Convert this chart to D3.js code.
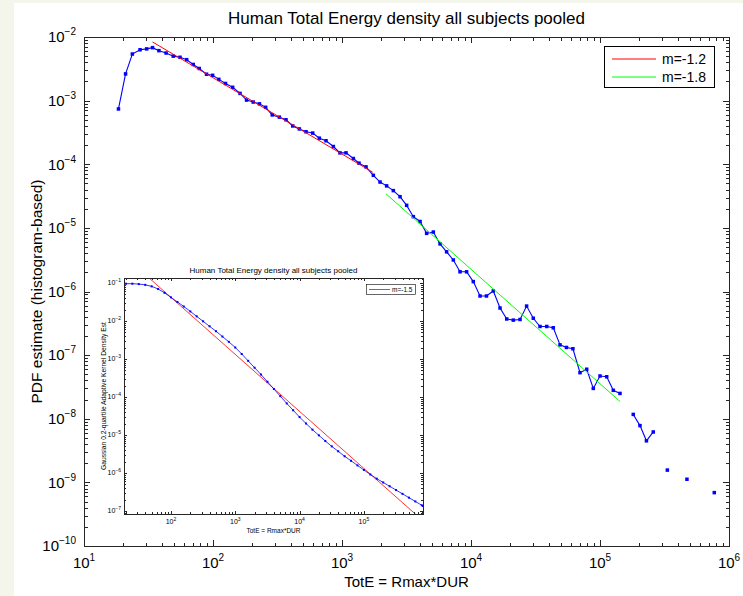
<!DOCTYPE html>
<html><head><meta charset="utf-8">
<script src="https://cdn.jsdelivr.net/npm/d3@7"></script>
<style>
html,body{margin:0;padding:0;background:#f4f6ec;}
svg{display:block;font-family:"Liberation Sans",Arial,Helvetica,sans-serif;}
</style></head><body><svg id="c" width="743" height="596"></svg>
<script>
// ---------- data ----------
const titleText = "Human Total Energy density all subjects pooled";
const xLabelText = "TotE = Rmax*DUR";
const yLabelText = "PDF estimate (histogram-based)";

// histogram bin centres (TotE) and PDF estimates; null = empty bin
const binCenters = [18.5,21.0,23.7,27.2,30.6,34.0,38.1,43.3,49.2,55.5,62.5,70.3,78.2,89.1,99.3,111,125,142,162,182,205,229,256,288,327,368,415,467,526,593,667,752,857,964,1074,1225,1355,1535,1750,1972,2218,2500,2818,3170,3573,4027,4529,5105,5754,6471,7295,8222,9247,10420,11750,13180,14890,16790,18920,21280,23990,26980,30410,34280,38640,43450,48980,54950,61660,69980,78890,88720,100000,112700,126800,142900,161000,181100,204200,229100,258800,291700,332700,371500,417000,472100,530000,769100];
const pdfValues = [7.4e-4,2.63e-3,5.4e-3,6.3e-3,6.5e-3,6.8e-3,6.1e-3,5.6e-3,5.0e-3,4.8e-3,4.4e-3,3.7e-3,3.2e-3,2.6e-3,2.5e-3,2.16e-3,1.86e-3,1.62e-3,1.30e-3,1.02e-3,9.5e-4,8.9e-4,7.85e-4,5.96e-4,5.5e-4,5.0e-4,4.0e-4,3.59e-4,3.24e-4,3.09e-4,2.57e-4,2.34e-4,1.9e-4,1.51e-4,1.51e-4,1.23e-4,1.04e-4,9.1e-5,6.7e-5,5.25e-5,4.57e-5,3.85e-5,3.09e-5,2.26e-5,1.5e-5,1.26e-5,8.2e-6,8.6e-6,5.6e-6,4.2e-6,3.13e-6,2.04e-6,2.04e-6,1.43e-6,8.5e-7,8.5e-7,1.02e-6,5.5e-7,3.7e-7,3.55e-7,3.63e-7,5.9e-7,3.8e-7,2.82e-7,2.82e-7,2.69e-7,1.45e-7,1.32e-7,1.26e-7,5.3e-8,6.0e-8,3.0e-8,4.7e-8,4.57e-8,2.8e-8,2.5e-8,null,1.17e-8,7.8e-9,4.5e-9,6.2e-9,null,1.56e-9,null,null,1.12e-9,null,6.9e-10];

// power-law fits (endpoints)
const fitRedLabel = "m=-1.2";
const fitRedX = [34, 1730];
const fitRedY = [8.35e-3, 7.49e-5];
const fitGreenLabel = "m=-1.8";
const fitGreenX = [2190, 142900];
const fitGreenY = [3.44e-5, 1.87e-8];

const xTickExps = [1,2,3,4,5,6];
const yTickExps = [-10,-9,-8,-7,-6,-5,-4,-3,-2];

// inset: kernel density estimate
const insetTitleText = "Human Total Energy density all subjects pooled";
const insetXLabelText = "TotE = Rmax*DUR";
const insetYLabelText = "Gaussian 0.2-quartile Adaptive Kernel Density Est";
const kdeX = [18.6,20,25.1,31.6,39.8,50.1,63.1,79.4,100,126,158,200,251,316,398,501,631,794,1000,1259,1585,1995,2512,3162,3981,5012,6310,7943,10000,12589,15849,19953,25119,31623,39811,50119,63096,79433,100000,125893,158489,199526,251189,316228,398107,501187,630957,794328,830000];
const kdeY = [0.0955,0.0955,0.0955,0.0933,0.0891,0.0813,0.0692,0.0550,0.0417,0.0316,0.0240,0.0178,0.0132,0.00977,0.00724,0.00537,0.00389,0.00282,0.00200,0.00135,8.91e-4,5.89e-4,3.89e-4,2.51e-4,1.62e-4,1.05e-4,6.76e-5,4.47e-5,2.95e-5,2.00e-5,1.38e-5,9.77e-6,6.92e-6,5.01e-6,3.72e-6,2.75e-6,2.09e-6,1.58e-6,1.20e-6,9.12e-7,7.08e-7,5.62e-7,4.47e-7,3.55e-7,2.82e-7,2.24e-7,1.78e-7,1.41e-7,1.35e-7];
const insetFitLabel = "m=-1.5";
const insetFitX = [18.6, 830000];
const insetFitY = [0.519, 5.5e-8];
const insetXTickExps = [2,3,4,5];
const insetYTickExps = [-7,-6,-5,-4,-3,-2,-1];

// ---------- drawing ----------
const svg = d3.select("#c");
svg.append("rect").attr("x",14).attr("y",3).attr("width",729).attr("height",593).attr("fill","#ffffff");

function minorTicks(domain){
  const out=[];
  const lo=Math.floor(Math.log10(domain[0])), hi=Math.ceil(Math.log10(domain[1]));
  for(let e=lo;e<=hi;e++){for(let m=1;m<10;m++){const v=m*Math.pow(10,e); if(v>=domain[0]*0.9999 && v<=domain[1]*1.0001) out.push({v,major:m===1});}}
  return out;
}
function expText(k){return String(k).replace("-","\u2212");}

function drawAxes(g, x, y, o){
  const [x0,x1]=x.range(), [y1,y0]=y.range();
  const xt = minorTicks(x.domain()), yt = minorTicks(y.domain());
  const tg = g.append("g").attr("stroke",o.axisColor).attr("stroke-width",1).attr("shape-rendering","crispEdges");
  xt.forEach(t=>{
    const L = t.major?o.major:o.minor, px=Math.round(x(t.v))+0.5;
    tg.append("line").attr("x1",px).attr("x2",px).attr("y1",y1).attr("y2",y1-L);
    tg.append("line").attr("x1",px).attr("x2",px).attr("y1",y0).attr("y2",y0+L);
  });
  yt.forEach(t=>{
    const L = t.major?o.major:o.minor, py=Math.round(y(t.v))+0.5;
    tg.append("line").attr("x1",x0).attr("x2",x0+L).attr("y1",py).attr("y2",py);
    tg.append("line").attr("x1",x1).attr("x2",x1-L).attr("y1",py).attr("y2",py);
  });
  g.append("rect").attr("x",x0+0.5).attr("y",y0+0.5).attr("width",x1-x0).attr("height",y1-y0)
    .attr("fill","none").attr("stroke",o.axisColor).attr("stroke-width",1).attr("shape-rendering","crispEdges");
  o.xExps.forEach(k=>{
    const t=g.append("text").attr("x",x(Math.pow(10,k))).attr("y",y1+o.xLabOff).attr("text-anchor","middle")
      .attr("font-size",o.fs).attr("fill","#000");
    t.append("tspan").text("10");
    t.append("tspan").attr("font-size",o.efs).attr("dy",-o.edy).text(expText(k));
  });
  o.yExps.forEach(k=>{
    const t=g.append("text").attr("x",x0-o.yLabOff).attr("y",y(Math.pow(10,k))+o.fs*0.35).attr("text-anchor","end")
      .attr("font-size",o.fs).attr("fill","#000");
    t.append("tspan").text("10");
    t.append("tspan").attr("font-size",o.efs).attr("dy",-o.edy).text(expText(k));
  });
}

// main axes
const x = d3.scaleLog().domain([10,1e6]).range([84,729]);
const y = d3.scaleLog().domain([1e-10,1e-2]).range([546,37]);
const main = svg.append("g");
svg.append("clipPath").attr("id","mainClip").append("rect").attr("x",84).attr("y",37).attr("width",645).attr("height",509);

const pts = binCenters.map((b,i)=>({x:b,y:pdfValues[i]}));
const plotG = main.append("g").attr("clip-path","url(#mainClip)");
plotG.append("path").datum(pts)
  .attr("d",d3.line().defined(d=>d.y!=null).x(d=>x(d.x)).y(d=>y(d.y)))
  .attr("fill","none").attr("stroke","#0000ff").attr("stroke-width",1.1);
plotG.selectAll("rect.m").data(pts.filter(d=>d.y!=null)).join("rect").attr("class","m")
  .attr("x",d=>x(d.x)-1.75).attr("y",d=>y(d.y)-1.75).attr("width",3.5).attr("height",3.5).attr("fill","#0000ff");
const fitLine = d3.line().x(d=>x(d[0])).y(d=>y(d[1]));
plotG.append("path").datum(fitRedX.map((v,i)=>[v,fitRedY[i]])).attr("d",fitLine)
  .attr("fill","none").attr("stroke","#ff0000").attr("stroke-width",1);
plotG.append("path").datum(fitGreenX.map((v,i)=>[v,fitGreenY[i]])).attr("d",fitLine)
  .attr("fill","none").attr("stroke","#00ff00").attr("stroke-width",1);

drawAxes(main, x, y, {axisColor:"#262626", major:6, minor:3.5, fs:15, efs:10, edy:7, xLabOff:22, yLabOff:8, xExps:xTickExps, yExps:yTickExps});

// title & labels
svg.append("text").attr("x",(84+729)/2).attr("y",24).attr("text-anchor","middle").attr("font-size",17).text(titleText);
svg.append("text").attr("x",(84+729)/2).attr("y",587).attr("text-anchor","middle").attr("font-size",15).text(xLabelText);
svg.append("text").attr("transform",`translate(42,${(37+546)/2}) rotate(-90)`).attr("text-anchor","middle").attr("font-size",15.5).text(yLabelText);

// legend
const lg = svg.append("g");
lg.append("rect").attr("x",604.5).attr("y",46.5).attr("width",110).attr("height",41).attr("fill","#fff").attr("stroke","#000").attr("stroke-width",1);
[[fitRedLabel,"#ff0000",59],[fitGreenLabel,"#00ff00",77]].forEach(([lab,col,yy])=>{
  lg.append("line").attr("x1",612).attr("x2",656).attr("y1",yy).attr("y2",yy).attr("stroke",col).attr("stroke-width",1.2);
  lg.append("text").attr("x",662).attr("y",yy+5).attr("font-size",14).text(lab);
});

// ---------- inset ----------
const ix = d3.scaleLog().domain([18.6,830000]).range([124,423]);
const iy = d3.scaleLog().domain([Math.pow(10,-7.08),Math.pow(10,-0.87)]).range([514,278]);
const inset = svg.append("g");
inset.append("rect").attr("x",124).attr("y",278).attr("width",299).attr("height",236).attr("fill","#fff");
svg.append("clipPath").attr("id","insetClip").append("rect").attr("x",124).attr("y",278).attr("width",299).attr("height",236);
const ipG = inset.append("g").attr("clip-path","url(#insetClip)");
const kde = kdeX.map((v,i)=>({x:v,y:kdeY[i]}));
ipG.append("path").datum(insetFitX.map((v,i)=>[v,insetFitY[i]]))
  .attr("d",d3.line().x(d=>ix(d[0])).y(d=>iy(d[1]))).attr("fill","none").attr("stroke","#ff0000").attr("stroke-width",0.8);
ipG.append("path").datum(kde).attr("d",d3.line().x(d=>ix(d.x)).y(d=>iy(d.y)))
  .attr("fill","none").attr("stroke","#0000ff").attr("stroke-width",0.8);
ipG.selectAll("rect.k").data(kde).join("rect").attr("class","k")
  .attr("x",d=>ix(d.x)-1).attr("y",d=>iy(d.y)-1).attr("width",2).attr("height",2).attr("fill","#0000ff");

drawAxes(inset, ix, iy, {axisColor:"#262626", major:3, minor:1.8, fs:7, efs:5, edy:3, xLabOff:10, yLabOff:3, xExps:insetXTickExps, yExps:insetYTickExps});
inset.append("text").attr("x",273.5).attr("y",273).attr("text-anchor","middle").attr("font-size",8).text(insetTitleText);
inset.append("text").attr("x",273.5).attr("y",533).attr("text-anchor","middle").attr("font-size",6.5).text(insetXLabelText);
inset.append("text").attr("transform",`translate(106,${(278+514)/2}) rotate(-90)`).attr("text-anchor","middle").attr("font-size",6.7).text(insetYLabelText);
inset.append("rect").attr("x",366.5).attr("y",284.5).attr("width",49).attr("height",10).attr("fill","#fff").attr("stroke","#000").attr("stroke-width",0.6);
inset.append("line").attr("x1",369).attr("x2",390).attr("y1",289.5).attr("y2",289.5).attr("stroke","#ff0000").attr("stroke-width",0.8);
inset.append("text").attr("x",392).attr("y",292).attr("font-size",6.5).text(insetFitLabel);
</script></body></html>
